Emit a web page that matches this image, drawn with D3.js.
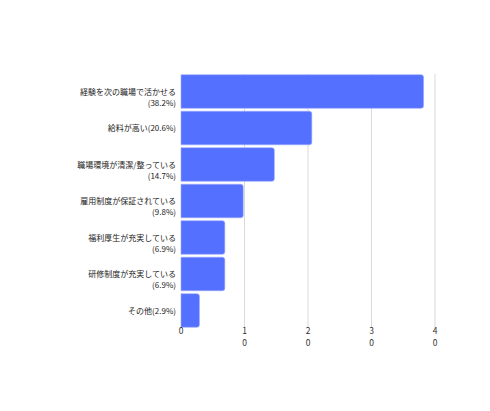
<!DOCTYPE html>
<html><head><meta charset="utf-8">
<script src="https://cdn.jsdelivr.net/npm/d3@7"></script>
<style>body{margin:0;background:#fff}svg{display:block}</style>
</head><body>
<script>
const labels1 = ["経験を次の職場で活かせる","給料が高い(20.6%)","職場環境が清潔/整っている","雇用制度が保証されている","福利厚生が充実している","研修制度が充実している","その他(2.9%)"];
const labels2 = ["(38.2%)","","(14.7%)","(9.8%)","(6.9%)","(6.9%)",""];
const values = [38.2,20.6,14.7,9.8,6.9,6.9,2.9];
const ticks = [0,10,20,30,40];

const W=490,H=411, x0=181, x1=435, y0=74, y1=328;
const svg=d3.select("body").append("svg").attr("width",W).attr("height",H);
const x=d3.scaleLinear().domain([0,40]).range([x0,x1]);
const y=d3.scaleBand().domain(d3.range(values.length)).range([y0,y1]).paddingInner(0.08).paddingOuter(0.02);
const font="'Noto Sans CJK JP','Noto Sans',sans-serif";

svg.append("g").selectAll("line").data(ticks.slice(1)).join("line")
 .attr("x1",d=>x(d)).attr("x2",d=>x(d)).attr("y1",y0).attr("y2",y1)
 .attr("stroke","#d9d9d9").attr("stroke-width",1);

svg.append("g").selectAll("path").data(values).join("path")
 .attr("d",(d,i)=>{const yt=y(i),h=y.bandwidth(),xe=x(d),r=2.5;
   return `M${x0},${yt}H${xe-r}Q${xe},${yt} ${xe},${yt+r}V${yt+h-r}Q${xe},${yt+h} ${xe-r},${yt+h}H${x0}Z`;})
 .attr("fill","#5470ff").attr("stroke","#9aaaff").attr("stroke-width",0.6);

const lg=svg.append("g").attr("font-family",font).attr("font-size",8).attr("fill","#222").attr("text-anchor","end");
values.forEach((v,i)=>{
  const cy=y(i)+y.bandwidth()/2;
  lg.append("text").attr("x",176).attr("y",cy+1).attr("dominant-baseline","middle").text(labels1[i]);
  if(labels2[i]) lg.append("text").attr("x",176).attr("y",cy+12).attr("dominant-baseline","middle").text(labels2[i]);
});

const tg=svg.append("g").attr("font-family",font).attr("font-size",8.5).attr("fill","#333").attr("text-anchor","middle");
ticks.forEach(t=>{
  const s=String(t);
  tg.append("text").attr("x",x(t)).attr("y",332).attr("dominant-baseline","middle").text(s[0]);
  if(s.length>1) tg.append("text").attr("x",x(t)).attr("y",344).attr("dominant-baseline","middle").text(s.slice(1));
});
</script>
</body></html>
